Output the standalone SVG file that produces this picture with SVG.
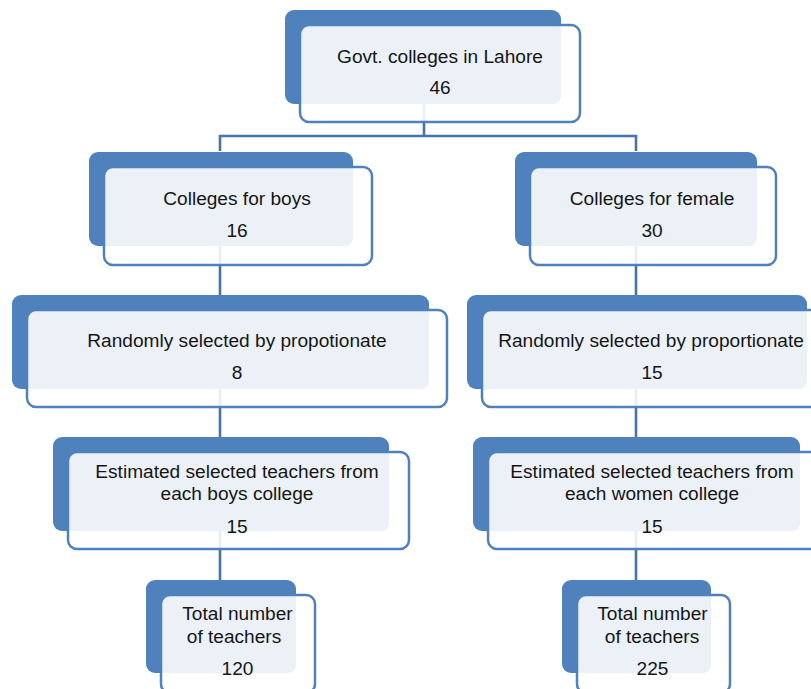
<svg xmlns="http://www.w3.org/2000/svg" width="811" height="689" viewBox="0 0 811 689">
<style>
.back{fill:#4F81BD}
.face{fill:#ffffff;fill-opacity:0.88}
.light{fill:#ECF1F8}
.edge{fill:none;stroke:#4F81BD;stroke-width:2.5}
.conn{fill:none;stroke:#4673AB;stroke-width:2.6}
text{font-family:"Liberation Sans",Arial,sans-serif;font-size:19.1px;fill:#151515;text-anchor:middle}
</style>
<rect width="811" height="689" fill="#ffffff"/>
<g id="connectors">
<path class="conn" d="M424,104 V136 M220,151 V136 H636 V151"/>
<path class="conn" d="M220,246 V295 M636,246 V295 M220,389 V437 M636,389 V437 M220,531 V580 M636,531 V580"/>
</g>
<g id="n1">
<rect class="back" x="285" y="10" width="276" height="94" rx="9"/>
<rect class="face" x="300" y="25" width="280" height="97" rx="9"/>
<rect class="light" x="301.5" y="26.5" width="259.5" height="77.5" rx="8"/>
<rect class="edge" x="300" y="25" width="280" height="97" rx="9"/>
<text x="440" y="63">Govt. colleges in Lahore</text>
<text x="440" y="94">46</text>
</g>
<g id="n2">
<rect class="back" x="89" y="152" width="264" height="94" rx="9"/>
<rect class="face" x="104" y="167" width="268" height="98" rx="9"/>
<rect class="light" x="105.5" y="168.5" width="247.5" height="77.5" rx="8"/>
<rect class="edge" x="104" y="167" width="268" height="98" rx="9"/>
<text x="237" y="205">Colleges for boys</text>
<text x="237" y="237">16</text>
</g>
<g id="n3">
<rect class="back" x="515" y="152" width="242" height="94" rx="9"/>
<rect class="face" x="530" y="167" width="246" height="98" rx="9"/>
<rect class="light" x="531.5" y="168.5" width="225.5" height="77.5" rx="8"/>
<rect class="edge" x="530" y="167" width="246" height="98" rx="9"/>
<text x="652" y="205">Colleges for female</text>
<text x="652" y="237">30</text>
</g>
<g id="n4">
<rect class="back" x="12" y="295" width="417" height="94" rx="9"/>
<rect class="face" x="27" y="310" width="420" height="97" rx="9"/>
<rect class="light" x="28.5" y="311.5" width="400.5" height="77.5" rx="8"/>
<rect class="edge" x="27" y="310" width="420" height="97" rx="9"/>
<text x="237" y="347">Randomly selected by propotionate</text>
<text x="237" y="379">8</text>
</g>
<g id="n5">
<rect class="back" x="467" y="295" width="340" height="94" rx="9"/>
<rect class="face" x="482" y="310" width="344" height="97" rx="9"/>
<rect class="light" x="483.5" y="311.5" width="323.5" height="77.5" rx="8"/>
<rect class="edge" x="482" y="310" width="344" height="97" rx="9"/>
<text x="651" y="347">Randomly selected by proportionate</text>
<text x="652" y="379">15</text>
</g>
<g id="n6">
<rect class="back" x="53" y="437" width="336" height="94" rx="9"/>
<rect class="face" x="68" y="452" width="341" height="97" rx="9"/>
<rect class="light" x="69.5" y="453.5" width="319.5" height="77.5" rx="8"/>
<rect class="edge" x="68" y="452" width="341" height="97" rx="9"/>
<text x="237" y="478">Estimated selected teachers from</text>
<text x="237" y="500">each boys college</text>
<text x="237" y="533">15</text>
</g>
<g id="n7">
<rect class="back" x="473" y="437" width="327" height="94" rx="9"/>
<rect class="face" x="488" y="452" width="334" height="97" rx="9"/>
<rect class="light" x="489.5" y="453.5" width="310.5" height="77.5" rx="8"/>
<rect class="edge" x="488" y="452" width="334" height="97" rx="9"/>
<text x="652" y="478">Estimated selected teachers from</text>
<text x="652" y="500">each women college</text>
<text x="652" y="533">15</text>
</g>
<g id="n8">
<rect class="back" x="146" y="580" width="150" height="93" rx="9"/>
<rect class="face" x="161" y="595" width="154" height="98" rx="9"/>
<rect class="light" x="162.5" y="596.5" width="133.5" height="76.5" rx="8"/>
<rect class="edge" x="161" y="595" width="154" height="98" rx="9"/>
<text x="237.5" y="620">Total number</text>
<text x="234" y="643">of teachers</text>
<text x="237.5" y="675">120</text>
</g>
<g id="n9">
<rect class="back" x="562" y="580" width="149" height="93" rx="9"/>
<rect class="face" x="577" y="595" width="153" height="98" rx="9"/>
<rect class="light" x="578.5" y="596.5" width="132.5" height="76.5" rx="8"/>
<rect class="edge" x="577" y="595" width="153" height="98" rx="9"/>
<text x="652.5" y="620">Total number</text>
<text x="652" y="643">of teachers</text>
<text x="652.5" y="675">225</text>
</g>
</svg>
